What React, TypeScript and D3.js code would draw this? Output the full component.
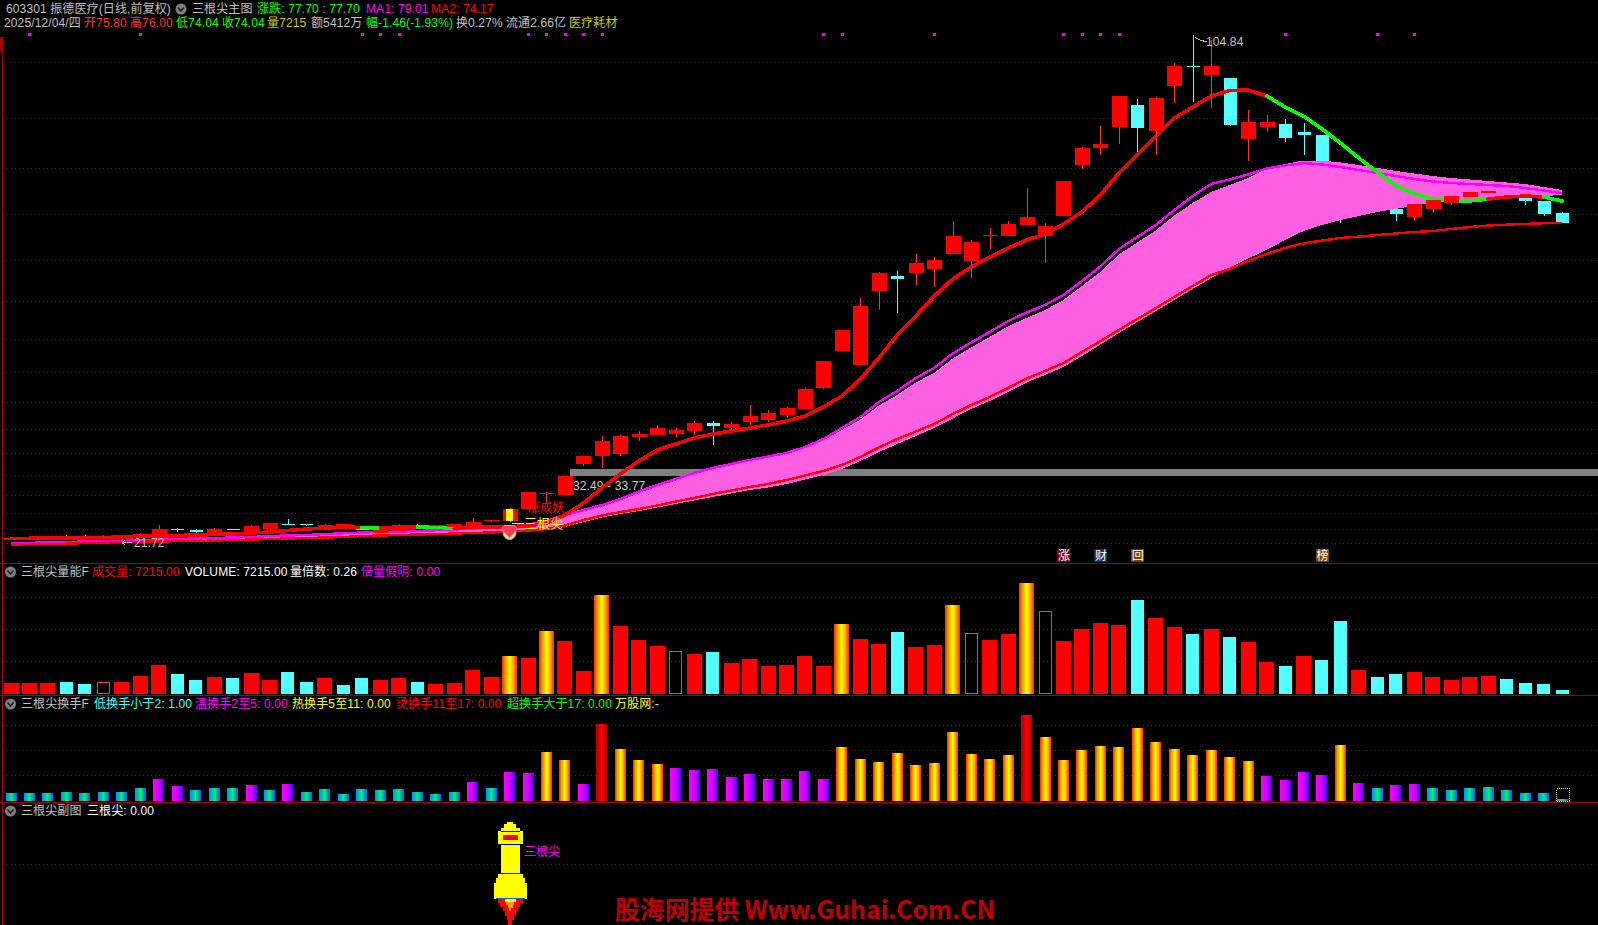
import React from "react";
import * as d3 from "d3";

const WIDTH = 1598;
const HEIGHT = 925;

// ---- price series (yuan), one entry per trading day ----
const opens = [22.40,22.40,22.40,22.98,22.81,22.57,22.49,22.65,23.14,24.20,23.96,23.47,24.12,23.68,24.12,24.99,24.94,24.28,24.45,24.28,23.51,23.79,24.82,24.61,24.45,24.33,25.48,25.43,27.39,29.89,29.68,34.74,36.05,36.38,39.15,39.48,39.64,40.13,41.44,40.62,41.60,41.93,42.75,43.73,47.16,53.21,50.92,63.01,65.46,65.95,66.60,69.06,67.91,71.98,71.98,73.79,71.98,75.26,83.60,86.38,89.81,93.40,89.15,96.51,99.77,98.30,97.81,87.85,89.81,90.30,88.99,88.50,81.96,79.19,78.21,76.41,75.10,76.41,77.39,78.37,79.02,78.53,78.21,77.72,75.80];
const closes = [22.70,22.65,22.65,22.81,22.65,22.81,22.89,23.30,24.12,24.04,23.68,24.12,24.00,24.56,25.10,24.82,24.77,24.77,24.89,23.96,23.96,24.77,24.72,24.72,24.89,25.26,25.59,27.39,30.17,30.00,32.78,36.05,38.50,39.32,39.64,40.62,40.29,41.44,40.95,41.28,42.58,43.07,43.89,47.00,51.57,56.64,60.56,65.95,64.97,67.58,68.07,71.98,71.02,72.16,73.96,75.10,73.63,80.98,86.38,87.03,94.87,89.64,94.55,99.77,99.61,99.77,90.13,90.62,90.62,88.01,88.50,82.45,75.92,77.06,77.06,75.59,77.22,77.88,78.53,79.19,79.35,78.21,77.72,75.59,74.04];
const highs = [22.81,22.73,22.73,23.14,23.06,23.06,22.98,23.39,24.77,24.33,24.12,24.24,24.20,24.77,25.18,25.70,25.02,24.86,24.94,24.37,24.04,24.86,24.94,24.77,25.01,25.92,25.64,27.60,30.17,30.17,32.86,36.13,39.32,39.48,40.13,41.11,40.62,41.77,41.77,41.60,44.38,43.57,44.05,47.16,51.57,56.64,61.87,66.11,66.28,69.06,68.57,74.45,71.34,73.30,74.45,79.84,74.12,80.98,86.54,89.97,94.87,94.38,94.71,100.26,104.84,104.02,97.81,92.58,91.77,91.11,90.46,88.50,82.78,79.84,78.70,76.73,77.22,77.88,78.53,79.19,79.35,78.70,78.21,77.72,76.00];
const lows = [22.32,22.32,22.32,22.65,22.57,22.49,21.72,22.57,23.06,23.59,23.51,23.39,23.96,23.63,24.04,24.77,24.61,24.20,24.37,23.88,23.47,23.71,24.61,24.37,24.37,24.28,25.26,25.34,27.39,28.37,29.60,34.41,34.09,36.05,38.50,39.32,39.15,39.48,37.85,40.30,41.11,41.60,42.26,43.73,47.00,53.21,50.92,59.90,59.42,63.99,63.66,69.06,65.13,69.87,71.98,73.79,67.58,75.26,82.94,85.23,87.03,85.56,85.23,93.73,93.89,92.91,89.97,84.25,88.99,87.36,85.23,82.45,74.12,76.57,76.57,74.45,74.45,75.75,77.06,78.37,79.02,78.04,77.06,75.26,74.04];

// thick trend line, drawn red except on the day ranges listed in greenSpans
const trendLine = [22.57,22.60,22.65,22.65,22.70,22.73,22.81,22.89,22.98,23.06,23.14,23.22,23.30,23.47,23.63,23.88,24.12,24.28,24.45,24.37,24.28,24.37,24.45,24.37,24.28,24.37,24.45,24.53,24.61,25.10,26.41,28.37,30.82,33.11,35.23,37.03,38.01,38.99,39.64,40.13,40.62,41.11,41.77,42.58,44.06,45.85,48.63,52.06,55.82,58.92,62.19,64.97,66.93,68.57,70.04,71.34,72.32,73.96,75.92,78.70,82.29,85.23,88.34,91.28,93.08,94.87,95.77,95.85,94.87,93.08,91.60,89.48,87.19,84.74,82.45,80.17,78.86,78.04,77.80,77.72,78.04,78.37,78.53,78.37,77.70];
const greenSpans = [[19,20],[22,24],[68,80],[83,84]];
const ma1 = [21.83,21.87,21.91,22.00,22.08,22.11,22.16,22.32,22.40,22.49,22.57,22.65,22.73,22.81,22.98,23.06,23.14,23.30,23.42,23.55,23.63,23.71,23.79,23.91,24.04,24.20,24.37,24.48,24.86,25.43,26.41,27.22,28.04,29.02,30.25,31.31,32.29,33.27,34.09,34.74,35.39,35.97,36.54,37.52,38.83,40.62,42.42,44.87,46.67,48.79,50.43,52.80,54.59,56.31,58.10,59.50,60.72,62.36,64.64,67.01,69.87,71.83,73.79,76.24,78.53,80.49,81.23,82.05,83.03,83.52,83.92,83.68,83.27,82.78,82.29,81.80,81.31,80.90,80.66,80.49,80.33,80.17,79.84,79.43,79.01];
const ma2 = [21.59,21.64,21.67,21.72,21.83,21.91,22.00,22.03,22.08,22.13,22.16,22.24,22.32,22.40,22.49,22.57,22.65,22.73,22.81,22.98,23.06,23.14,23.22,23.30,23.38,23.47,23.55,23.71,23.87,24.12,24.69,25.59,26.32,26.90,27.39,27.96,28.61,29.19,29.84,30.41,30.98,31.47,32.13,32.86,33.60,34.58,35.89,37.44,38.83,40.05,41.28,42.91,44.38,45.69,47.16,48.71,49.94,51.24,53.04,54.84,56.64,58.43,60.23,62.03,63.83,65.62,66.60,67.91,69.06,70.04,70.77,71.26,71.67,71.91,72.16,72.41,72.65,72.81,73.14,73.47,73.71,73.85,73.98,74.08,74.17];
const bandUpper = [21.75,21.79,21.83,21.92,22.00,22.03,22.08,22.24,22.32,22.41,22.49,22.57,22.65,22.73,22.90,22.98,23.06,23.22,23.34,23.47,23.55,23.63,23.71,23.83,23.96,24.12,24.29,24.40,24.78,25.35,26.24,26.98,27.80,28.78,30.00,31.06,32.05,33.11,33.92,34.58,35.23,35.80,36.38,37.36,38.58,40.30,42.01,44.30,46.02,48.06,49.61,51.98,53.78,55.49,57.25,58.60,59.90,61.54,63.83,66.11,68.97,70.93,72.90,75.35,77.39,79.19,80.33,81.47,83.03,83.76,84.33,84.33,84.01,83.60,83.11,82.62,82.21,81.80,81.47,81.23,80.98,80.74,80.49,80.00,79.51];
const bandLower = [21.59,21.64,21.67,21.72,21.83,21.91,22.00,22.03,22.08,22.13,22.16,22.24,22.32,22.40,22.49,22.57,22.65,22.73,22.81,22.98,23.06,23.14,23.22,23.30,23.38,23.47,23.55,23.71,23.87,23.96,24.45,25.26,26.00,26.57,27.06,27.63,28.21,28.78,29.35,29.92,30.49,30.90,31.47,32.21,32.94,33.92,35.23,36.70,38.01,39.32,40.62,42.18,43.73,45.04,46.51,48.06,49.28,50.59,52.39,54.27,56.15,57.94,59.74,61.54,63.34,65.13,66.77,68.32,69.71,71.34,72.81,73.79,74.61,75.26,75.92,76.41,76.98,77.39,77.63,77.88,78.12,78.29,78.45,78.53,78.70];

const priceGrid = [100.38,91.23,83.06,75.54,68.03,61.33,55.12,49.72,44.82,40.41,36.49,32.90,29.63,26.69,24.07,21.78];
const zoneLow = 32.84;
const zoneHigh = 33.88;
const zoneLabel = "32.49 - 33.77";
const signalDays = [1,7,19,20,21,28,29,30,31,32,44,45,50,57,58,59,60,69,74,76];
const eventTags: [number, string, string][] = [[57,"涨","#8a0012"],[59,"财","#0f2f62"],[61,"回","#7c3f00"],[71,"榜","#7c4000"]];

// ---- volume panel, in units ----
const volumes = [11,11,11,12,10,12,12,18,29,20,14,17,16,21,14,22,12,16,9,16,14,16,12,10,11,24,17,38,36,63,53,23,99,68,54,48,43,40,42,31,35,28,29,38,28,70,55,50,62,47,49,89,61,54,60,111,83,53,65,71,69,94,76,67,60,65,57,52,32,28,38,34,73,24,17,20,22,17,14,17,18,15,11,10,4];
// r red, c cyan, g gold gradient, h hollow
const volumeKinds = ("rrrcchrrrc" + "crcrrccrcc" + "rrcrrrrgrg" + "rrgrrrhrcr" + "rrrrrgrrcr" + "rghrrghrrr" + "rcrrcrcrrc" + "rccrccrrrr" + "rcccc").split("");
const volumeGrid = [97,65,33];
const volumeTop = 111;

// ---- turnover panel, percent ----
const turnover = [1.14,1.14,1.14,1.29,1.14,1.29,1.29,1.86,3.14,2.14,1.57,1.86,1.86,2.29,1.57,2.43,1.29,1.71,1.00,1.71,1.57,1.71,1.29,1.00,1.29,2.71,1.86,4.14,4.00,7.00,5.86,2.43,11.00,7.43,5.86,5.29,4.71,4.43,4.57,3.43,3.86,3.14,3.14,4.29,3.14,7.71,6.00,5.57,6.86,5.14,5.43,9.86,6.71,6.00,6.57,12.29,9.14,5.86,7.29,7.86,7.71,10.43,8.43,7.43,6.57,7.29,6.29,5.71,3.57,3.00,4.14,3.71,8.00,2.57,1.86,2.29,2.43,1.86,1.57,1.86,1.97,1.57,1.14,1.14,0.27];
const turnoverGrid = [10.86,7.29,3.71];

const SANS = "'Liberation Sans','Noto Sans CJK SC',sans-serif";
const GRID = "#a00000";
const LINE = "#a80000";
const CYAN = "#54ffff";

const x = d3.scaleLinear().domain([0, 84]).range([11, 1562]);
const y = d3.scaleLinear().domain([104.84, 21.72]).range([35, 543.7]);
const yVol = d3.scaleLinear().domain([0, volumeTop]).range([694, 583]);
const yTurn = d3.scaleLinear().domain([0, 12.29]).range([801, 715]);

const lineOf = (s: number[]) =>
  d3.line<number>().x((_, i) => x(i)).y((d) => y(d))(s) as string;
const bandPath = d3
  .area<number>()
  .x((_, i) => x(i))
  .y0((_, i) => y(bandLower[i]))
  .y1((d) => y(d))(bandUpper) as string;

function Dotted({ py }: { py: number }) {
  return <line x1={3} x2={WIDTH} y1={py} y2={py} stroke={GRID} strokeDasharray="1 3" shapeRendering="crispEdges" />;
}

function Txt({ px, py, fill = "#c0c0c0", size = 12, children }: any) {
  return (
    <text x={px} y={py} fill={fill} fontSize={size} fontFamily={SANS} dominantBaseline="central" letterSpacing={0.12}>
      {children}
    </text>
  );
}

function Chevron({ cy }: { cy: number }) {
  return (
    <g>
      <circle cx={10.5} cy={cy} r={5.5} fill="#808080" />
      <path d={`M7.5,${cy - 1.5}L10.5,${cy + 2}L13.5,${cy - 1.5}`} fill="none" stroke="#202020" strokeWidth={1.6} />
    </g>
  );
}

function Candle({ i }: { i: number }) {
  const up = closes[i] >= opens[i];
  const color = up ? "#ff0000" : CYAN;
  const w = up ? 15 : 13;
  const top = y(Math.max(opens[i], closes[i]));
  const bot = y(Math.min(opens[i], closes[i]));
  const cx = Math.round(x(i)) + 0.5;
  return (
    <g shapeRendering="crispEdges">
      <line x1={cx} x2={cx} y1={y(highs[i])} y2={y(lows[i])} stroke={up ? "#ff3030" : CYAN} />
      <rect x={cx - w / 2} y={top} width={w} height={Math.max(bot - top, 1)} fill={color} />
    </g>
  );
}

export default function App() {
  const days = d3.range(opens.length);
  const rocketX = x(27);
  const rocket: [number, number, number, string][] = [
    [3, 822, 2, "#ffff00"], [6, 824, 3.5, "#ffff00"], [9.5, 827.5, 4, "#ffff00"], [12.5, 831, 13, "#ffff00"],
    [9.5, 844, 29.5, "#ffff00"], [12.5, 873.5, 4.5, "#ffff00"], [14.5, 878, 5, "#ffff00"], [16.5, 883, 16, "#ffff00"],
    [12.5, 899, 4, "#ff0000"], [10, 903, 4, "#ff0000"], [7.5, 907, 4, "#ff0000"], [5.5, 911, 5, "#ff0000"], [3.5, 916, 4, "#ff0000"], [2, 920, 4.5, "#ff0000"],
    [5.5, 899, 3, "#ffff00"], [4, 902, 3, "#ffa000"], [2.5, 905, 3, "#ffa000"], [1, 908, 3, "#ffa000"],
    [7.5, 835, 5, "#ff0000"], [9.5, 831, 1, "#0000c0"], [9.5, 843.5, 1, "#0000c0"], [9.5, 873, 1, "#0000c0"], [14.5, 898, 1, "#0060ff"],
  ];
  return (
    <svg
      width={WIDTH}
      height={HEIGHT}
      viewBox={`0 0 ${WIDTH} ${HEIGHT}`}
      style={{ position: "absolute", left: 0, top: 0, display: "block", background: "#000" }}
    >
      <defs>
        <linearGradient id="gold">
          <stop offset="0" stopColor="#ff2a00" />
          <stop offset="0.25" stopColor="#ffa800" />
          <stop offset="0.5" stopColor="#ffff00" />
          <stop offset="0.75" stopColor="#ffa800" />
          <stop offset="1" stopColor="#ff2a00" />
        </linearGradient>
        <linearGradient id="cool">
          <stop offset="0" stopColor="#0090ff" />
          <stop offset="0.3" stopColor="#00c0c0" />
          <stop offset="0.5" stopColor="#00ff40" />
          <stop offset="0.7" stopColor="#00b0c0" />
          <stop offset="1" stopColor="#0060ff" />
        </linearGradient>
        <linearGradient id="purple">
          <stop offset="0" stopColor="#ff00ff" />
          <stop offset="0.5" stopColor="#d000ff" />
          <stop offset="1" stopColor="#5000ff" />
        </linearGradient>
        <linearGradient id="hot">
          <stop offset="0" stopColor="#b00000" />
          <stop offset="0.5" stopColor="#ff0000" />
          <stop offset="1" stopColor="#b00000" />
        </linearGradient>
      </defs>
      <rect width={WIDTH} height={HEIGHT} fill="#000" />

      {/* frame */}
      <g shapeRendering="crispEdges">
        <line x1={2.5} x2={2.5} y1={37} y2={HEIGHT} stroke={LINE} />
        <rect x={0} y={37} width={2} height={14} fill="#a80000" />
        <line x1={0} x2={WIDTH} y1={563.5} y2={563.5} stroke={LINE} />
        <line x1={0} x2={WIDTH} y1={695.5} y2={695.5} stroke={LINE} />
        <line x1={0} x2={WIDTH} y1={802.5} y2={802.5} stroke={LINE} />
      </g>

      {/* main panel */}
      {priceGrid.map((p) => <Dotted key={p} py={Math.round(y(p)) + 0.5} />)}
      {signalDays.map((i) => (
        <rect key={i} x={Math.round(x(i)) - 1} y={33} width={3} height={3} fill="#ff00ff" shapeRendering="crispEdges" />
      ))}
      <rect x={570} y={y(zoneHigh)} width={WIDTH - 570} height={y(zoneLow) - y(zoneHigh)} fill="#808080" shapeRendering="crispEdges" />
      <Txt px={573} py={486} fill="#c8c8c8">{zoneLabel}</Txt>

      {days.filter((i) => closes[i] < opens[i]).map((i) => <Candle key={i} i={i} />)}
      <path d={bandPath} fill="#ff5fe0" shapeRendering="crispEdges" />
      <path d={lineOf(ma1)} fill="none" stroke="#ff00ff" strokeWidth={2.4} shapeRendering="crispEdges" />
      <path d={lineOf(ma2)} fill="none" stroke="#ff0000" strokeWidth={2.4} shapeRendering="crispEdges" />
      {days.slice(1).map((i) => (
        <path
          key={i}
          d={d3.line<number>().x((d) => x(d)).y((d) => y(trendLine[d]))([i - 1, i]) as string}
          stroke={greenSpans.some(([a, b]) => i > a && i <= b) ? "#00ff00" : "#ff0000"}
          strokeWidth={3.6}
          strokeLinecap="round"
          fill="none"
          shapeRendering="crispEdges"
        />
      ))}
      {days.filter((i) => closes[i] >= opens[i]).map((i) => <Candle key={i} i={i} />)}
      <rect x={x(27) - 3.5} y={y(closes[27])} width={7} height={y(opens[27]) - y(closes[27])} fill="#ffff00" shapeRendering="crispEdges" />

      {/* high / low marks */}
      <path
        d={`M${x(64) + 1},${y(104.84) + 1}v3M${x(64) + 2},${y(104.84) + 2}l4,2.5l8,2.5`}
        fill="none"
        stroke="#c0c0c0"
        shapeRendering="crispEdges"
      />
      <Txt px={1206} py={42}>104.84</Txt>
      <path d={`M${x(6)},${y(21.72) - 1}h10M${x(6)},${y(21.72) - 1}l3,-2M${x(6)},${y(21.72) - 1}l3,2`} fill="none" stroke="#c0c0c0" shapeRendering="crispEdges" />
      <Txt px={134} py={543}>21.72</Txt>

      {/* signal annotations */}
      <text x={528} y={508} fill="#ff0000" fontSize={12} fontFamily={SANS} dominantBaseline="central">涨成妖</text>
      <line x1={512} x2={524} y1={523.5} y2={523.5} stroke="#ffff00" shapeRendering="crispEdges" />
      <text x={524} y={523} fill="#ffff00" fontSize={13} fontFamily={SANS} dominantBaseline="central">三根尖</text>
      <circle cx={x(27)} cy={533} r={6.5} fill="#f8e890" stroke="#e0b000" />
      <path d={`M${x(27) - 8},529l3,-3.5h10l3,3.5l-8,9z`} fill="#ff3858" stroke="#ff9090" />

      {eventTags.map(([i, t, c]) => (
        <g key={t}>
          <rect x={Math.round(x(i)) - 6} y={549} width={13} height={13} fill={c} shapeRendering="crispEdges" />
          <text x={x(i) + 0.5} y={555.5} fontSize={12} fill="#ffffff" textAnchor="middle" dominantBaseline="central" fontFamily={SANS}>{t}</text>
        </g>
      ))}

      {/* header */}
      <Txt px={6} py={9}>603301 振德医疗(日线,前复权)</Txt>
      <circle cx={181} cy={9} r={5.5} fill="#808080" />
      <path d="M178,7.5L181,11L184,7.5" fill="none" stroke="#202020" strokeWidth={1.6} />
      <Txt px={192} py={9}>三根尖主图</Txt>
      <Txt px={257} py={9} fill="#00ff00">涨跌: 77.70 : 77.70</Txt>
      <Txt px={366} py={9} fill="#ff00ff">MA1: 79.01</Txt>
      <Txt px={431} py={9} fill="#ff0000">MA2: 74.17</Txt>

      <Txt px={4} py={23}>2025/12/04/四</Txt>
      <Txt px={84} py={23} fill="#ff3030">开75.80</Txt>
      <Txt px={130} py={23} fill="#ff3030">高76.00</Txt>
      <Txt px={176} py={23} fill="#00ff00">低74.04</Txt>
      <Txt px={222} py={23} fill="#00ff00">收74.04</Txt>
      <Txt px={267} py={23} fill="#c8c800">量7215</Txt>
      <Txt px={311} py={23}>额5412万</Txt>
      <Txt px={366} py={23} fill="#00ff00">幅-1.46(-1.93%)</Txt>
      <Txt px={456} py={23}>换0.27%</Txt>
      <Txt px={506} py={23}>流通2.66亿</Txt>
      <Txt px={569} py={23} fill="#c8c800">医疗耗材</Txt>

      {/* volume panel */}
      {volumeGrid.map((v) => <Dotted key={v} py={Math.round(yVol(v)) + 0.5} />)}
      <Chevron cy={572} />
      <Txt px={21} py={572}>三根尖量能F</Txt>
      <Txt px={92} py={572} fill="#ff0000">成交量: 7215.00</Txt>
      <Txt px={185} py={572} fill="#ffffff">VOLUME: 7215.00</Txt>
      <Txt px={290} py={572} fill="#ffffff">量倍数: 0.26</Txt>
      <Txt px={361} py={572} fill="#ff00ff">倍量假阴: 0.00</Txt>
      {volumes.map((v, i) => {
        const k = volumeKinds[i];
        const w = k === "c" || k === "h" ? 13 : 15;
        const left = Math.round(x(i) - w / 2);
        const top = yVol(v);
        return k === "h" ? (
          <rect key={i} x={left + 0.5} y={top + 0.5} width={w - 1} height={694 - top - 1} fill="none" stroke="#ff3c3c" shapeRendering="crispEdges" />
        ) : (
          <rect key={i} x={left} y={top} width={w} height={694 - top} fill={k === "c" ? CYAN : k === "g" ? "url(#gold)" : "#ff0000"} shapeRendering="crispEdges" />
        );
      })}

      {/* turnover panel */}
      {turnoverGrid.map((v) => <Dotted key={v} py={Math.round(yTurn(v)) + 0.5} />)}
      <Chevron cy={704} />
      <Txt px={21} py={704}>三根尖换手F</Txt>
      <Txt px={94} py={704} fill="#40ffff">低换手小于2: 1.00</Txt>
      <Txt px={195} py={704} fill="#ff00ff">温换手2至5: 0.00</Txt>
      <Txt px={292} py={704} fill="#ffff00">热换手5至11: 0.00</Txt>
      <Txt px={396} py={704} fill="#ff0000">烫换手11至17: 0.00</Txt>
      <Txt px={507} py={704} fill="#00ff00">超换手大于17: 0.00</Txt>
      <Txt px={615} py={704} fill="#ffff00">万股网:-</Txt>
      {turnover.map((v, i) => {
        const fill = v < 2 ? "url(#cool)" : v < 5 ? "url(#purple)" : v < 11 ? "url(#gold)" : "url(#hot)";
        return <rect key={i} x={Math.round(x(i) - 5.5)} y={yTurn(v)} width={11} height={801 - yTurn(v)} fill={fill} shapeRendering="crispEdges" />;
      })}
      <rect x={1556.5} y={788.5} width={13} height={13} fill="none" stroke="#e8e800" strokeDasharray="1 1" shapeRendering="crispEdges" />

      {/* bottom panel */}
      <Dotted py={864.5} />
      <Chevron cy={811} />
      <Txt px={21} py={811}>三根尖副图</Txt>
      <Txt px={87} py={811} fill="#ffffff">三根尖: 0.00</Txt>
      {rocket.map(([half, top, h, c], n) => (
        <rect key={n} x={Math.round(rocketX) - half} y={top} width={half * 2} height={h} fill={c} shapeRendering="crispEdges" />
      ))}
      <text x={524} y={851.5} fill="#ff00ff" fontSize={12} fontFamily={SANS} dominantBaseline="central">三根尖</text>
      <text x={615} y={919} fill="#c00000" fontSize={25} fontWeight="bold" fontFamily="'Noto Sans CJK SC','Open Sans',sans-serif" textLength={380} lengthAdjust="spacingAndGlyphs">
        股海网提供 Www.Guhai.Com.CN
      </text>
    </svg>
  );
}
